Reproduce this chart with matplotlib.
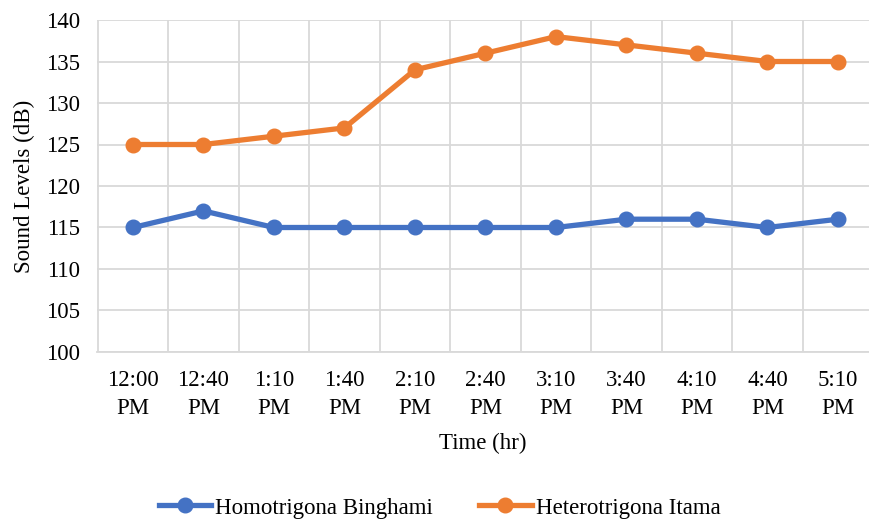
import matplotlib
matplotlib.use("Agg")
import matplotlib.pyplot as plt

times = ["12:00\nPM", "12:40\nPM", "1:10\nPM", "1:40\nPM", "2:10\nPM", "2:40\nPM",
         "3:10\nPM", "3:40\nPM", "4:10\nPM", "4:40\nPM", "5:10\nPM"]
homotrigona = [115, 117, 115, 115, 115, 115, 115, 116, 116, 115, 116]
heterotrigona = [125, 125, 126, 127, 134, 136, 138, 137, 136, 135, 135]
yticks = [100, 105, 110, 115, 120, 125, 130, 135, 140]

plt.rcParams['font.family'] = ['Liberation Serif', 'DejaVu Serif']
FS = 16.5

fig = plt.figure(figsize=(8.69, 5.21), dpi=100)
ax = fig.add_axes([97/869, (521-352)/521, (869-97)/869, 332/521])

x = list(range(len(times)))
ax.plot(x, homotrigona, color='#4472C4', lw=3.8, marker='o', ms=10.5, label='Homotrigona Binghami', zorder=3)
ax.plot(x, heterotrigona, color='#ED7D31', lw=3.8, marker='o', ms=10.5, label='Heterotrigona Itama', zorder=3)

ax.set_xlim(-0.51, 10.44)
ax.set_ylim(100, 140)
ax.set_yticks(yticks)
ax.set_yticklabels([str(v) for v in yticks], fontsize=FS)
ax.set_xticks(x)
ax.set_xticklabels(times, fontsize=FS, linespacing=1.45)
ax.tick_params(axis='x', length=0, pad=13)
ax.tick_params(axis='y', length=0, pad=12)

for b in [i + 0.5 for i in range(-1, len(times))]:
    ax.axvline(b, color='#d9d9d9', lw=1.3, zorder=1)
for v in yticks:
    ax.axhline(v, color='#d9d9d9', lw=1.3, zorder=1)

for s in ['top', 'right', 'left']:
    ax.spines[s].set_visible(False)
ax.spines['bottom'].set_color('#d9d9d9')
ax.spines['bottom'].set_linewidth(1.3)

ax.set_xlabel('Time (hr)', fontsize=FS, labelpad=10)
ax.set_ylabel('Sound Levels (dB)', fontsize=FS, labelpad=8)

fig.legend(loc='center', bbox_to_anchor=(0.5 + 5/869, 1 - 508/521), ncol=2, frameon=False,
           fontsize=FS, handlelength=2.3, columnspacing=2.0, handletextpad=0.17)

fig.savefig('out.png', dpi=100)
